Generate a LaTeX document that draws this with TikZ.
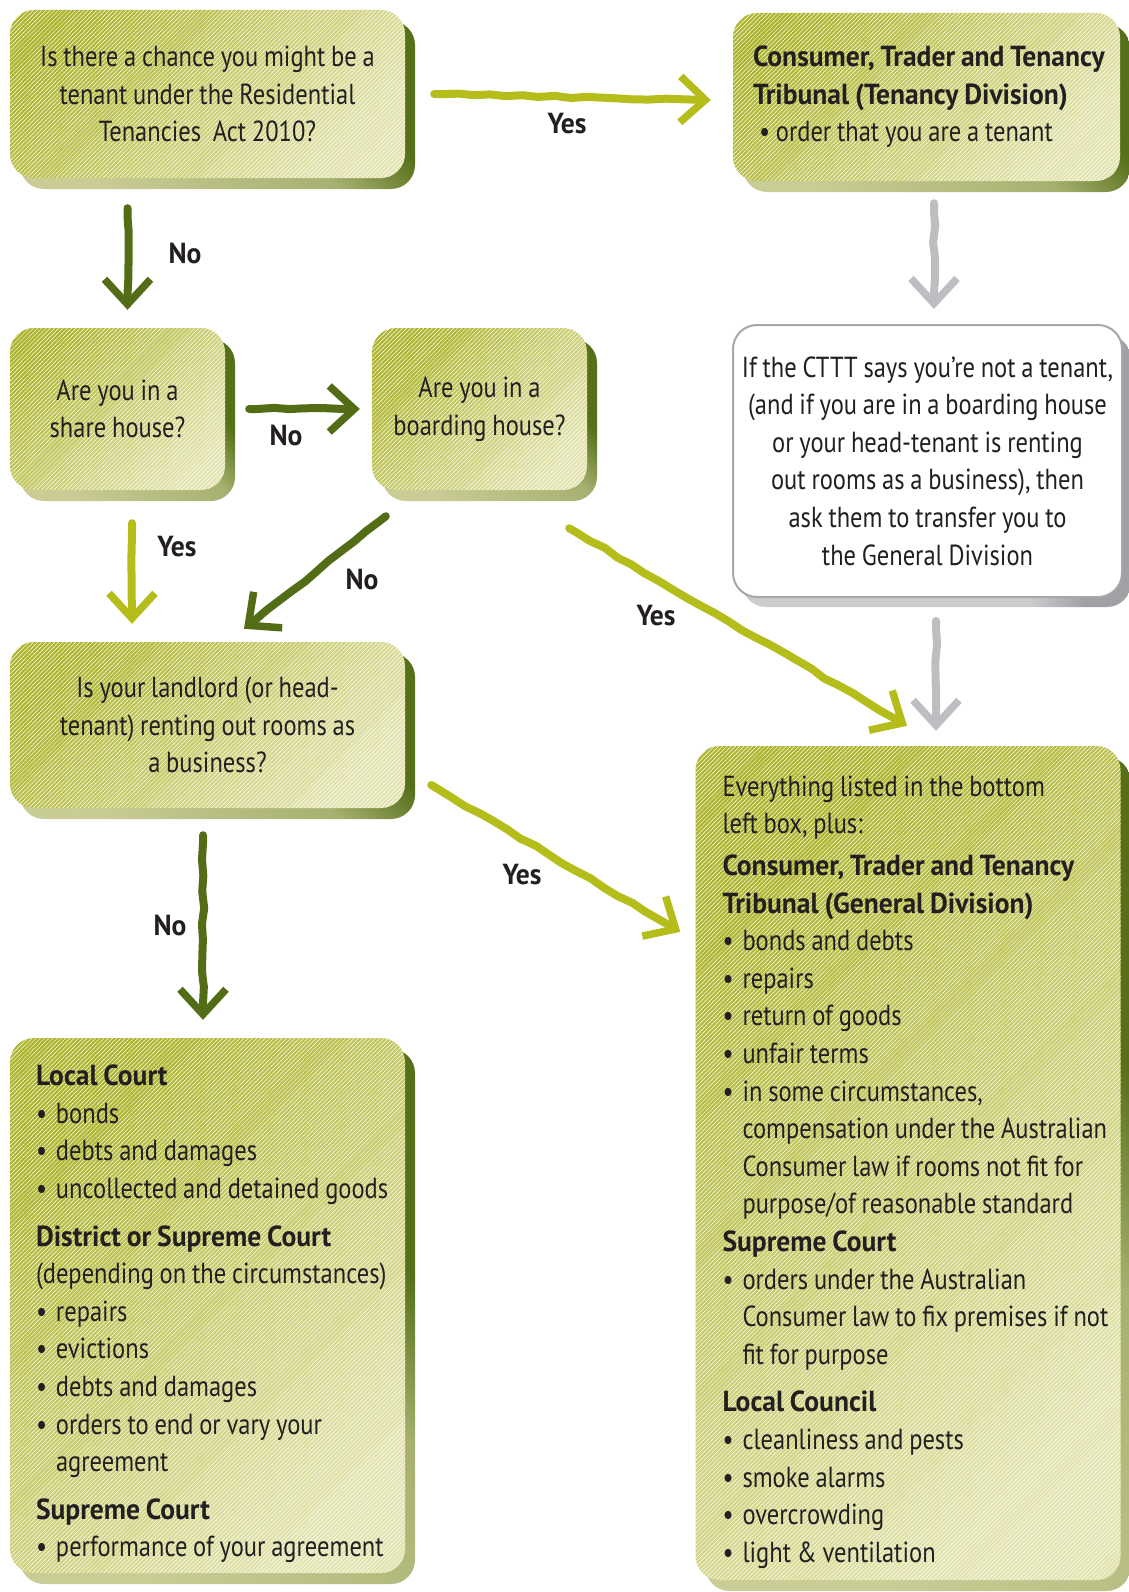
\documentclass[tikz,border=0pt]{standalone}
\usepackage{fontspec}
\setmainfont{PT Sans}[UprightFeatures={FakeStretch=0.845}, BoldFeatures={FakeStretch=0.95}]
\usepackage{tikz}
\usetikzlibrary{arrows.meta,shadows,decorations.pathmorphing,patterns.meta}

\definecolor{olivetop}{HTML}{AEB42D}
\definecolor{olivepale}{HTML}{E2E3AE}
\definecolor{shdark}{HTML}{56701A}
\definecolor{shlight}{HTML}{C9CC95}
\definecolor{arrowlight}{HTML}{B5BD1A}
\definecolor{arrowdark}{HTML}{536C16}
\definecolor{arrowgray}{HTML}{BDBEC1}
\definecolor{boxgray}{HTML}{A5A7AA}
\definecolor{shgray}{HTML}{9FA1A4}
\definecolor{shgraylight}{HTML}{CBCCCE}
\definecolor{ink}{HTML}{231F20}

\pgfdeclarehorizontalshading{greenshadow}{100bp}{color(0bp)=(shlight); color(25bp)=(shlight); color(55bp)=(shlight!70!shdark); color(68bp)=(shdark); color(100bp)=(shdark)}
\pgfdeclarehorizontalshading{grayshadow}{100bp}{color(0bp)=(shgraylight); color(25bp)=(shgraylight); color(62bp)=(shgraylight); color(69bp)=(shgray); color(100bp)=(shgray)}

\hyphenpenalty=10000
\exhyphenpenalty=10000
% narrow word spaces, set inside each box
\newcommand{\tsp}{\spaceskip=.2em\xspaceskip=.25em\relax}
\newcommand{\bitem}[1]{\par\noindent\hangindent=20pt\hangafter=1\makebox[20pt][l]{\textbullet}#1}
\newcommand{\bhead}[1]{\par\noindent\textbf{#1}}
\newcommand{\bgap}{\par\vspace{10pt}}

\begin{document}
\begin{tikzpicture}[x=1pt, y=-1pt,
  facebox/.style={rectangle, rounded corners=24pt, inner sep=0pt, text=ink,
    top color=olivetop, bottom color=olivepale, shading angle=45,
    general shadow={shadow xshift=10pt, shadow yshift=-11pt, shade, shading=greenshadow},
    postaction={pattern={Lines[angle=45,distance=3pt,line width=.5pt]}, pattern color=white, fill opacity=.08},
    font=\fontsize{29}{37.6}\selectfont},
  whitebox/.style={rectangle, rounded corners=24pt, inner sep=0pt, text=ink, fill=white,
    draw=boxgray, line width=2pt,
    general shadow={shadow xshift=9pt, shadow yshift=-10pt, shade, shading=grayshadow},
    font=\fontsize{29}{37.6}\selectfont},
  lbl/.style={font=\fontsize{29}{34}\selectfont\bfseries, text=ink, inner sep=0pt},
  flow/.style={line width=8pt, line cap=round, decorate,
    decoration={random steps, segment length=16pt, amplitude=1.2pt, pre length=8pt, post length=16pt},
    -{Straight Barb[length=25pt, width=46pt, line width=7.5pt]}},
  yesarrow/.style={flow, draw=arrowlight},
  noarrow/.style={flow, draw=arrowdark},
  grayarrow/.style={flow, draw=arrowgray}]
\useasboundingbox (0,0) rectangle (1128,1592);

\node[facebox, minimum width=395pt, minimum height=168pt, text width=375pt, align=center] (tenant) at (207.5,94)
  {\tsp Is there a chance you might be a\\tenant under the Residential\\Tenancies~ Act 2010?};
\node[facebox, minimum width=387pt, minimum height=168pt, text width=370pt, align=left] (tenancydiv) at (926.5,97)
  {\tsp\leftskip=11.5pt
   \textbf{Consumer, Trader and Tenancy}\\\textbf{Tribunal (Tenancy Division)}\\\hspace*{6pt}\textbullet\ order that you are a tenant\par};
\node[facebox, minimum width=215pt, minimum height=162pt, text width=200pt, align=center] (share) at (117.5,409)
  {\tsp Are you in a\\share house?};
\node[facebox, minimum width=215pt, minimum height=162pt, text width=200pt, align=center] (boarding) at (479.5,409)
  {\tsp Are you in a\\boarding house?};
\node[whitebox, minimum width=389pt, minimum height=272pt, text width=380pt, align=center] (transfer) at (927.5,461)
  {\tsp If the CTTT says you’re not a tenant,\\(and if you are in a boarding house\\or your head-tenant is renting\\out rooms as a business), then\\ask them to transfer you to\\the General Division};
\node[facebox, minimum width=395pt, minimum height=166pt, text width=375pt, align=center] (business) at (207.5,725)
  {\tsp Is your landlord (or head-\\tenant) renting out rooms as\\a business?};
\node[facebox, minimum width=395pt, minimum height=535pt, text width=380pt, align=left] (courts) at (207.5,1305.5)
  {\tsp\leftskip=18.5pt
   \bhead{Local Court}
   \bitem{bonds}
   \bitem{debts and damages}
   \bitem{uncollected and detained goods}
   \bgap\bhead{District or Supreme Court}
   \par\noindent(depending on the circumstances)
   \bitem{repairs}
   \bitem{evictions}
   \bitem{debts and damages}
   \bitem{orders to end or vary your\newline agreement}
   \bgap\bhead{Supreme Court}
   \bitem{performance of your agreement}\par};
\node[facebox, minimum width=425pt, minimum height=834pt, text width=410pt, align=left] (general) at (908,1163)
  {\tsp\leftskip=19.5pt
   \noindent Everything listed in the bottom\newline left box, plus:
   \par\vspace{4pt}\bhead{Consumer, Trader and Tenancy\newline Tribunal (General Division)}
   \bitem{bonds and debts}
   \bitem{repairs}
   \bitem{return of goods}
   \bitem{unfair terms}
   \bitem{in some circumstances,\newline compensation under the Australian\newline Consumer law if rooms not fit for\newline purpose/of reasonable standard}
   \bhead{Supreme Court}
   \bitem{orders under the Australian\newline Consumer law to fix premises if not\newline fit for purpose}
   \bgap\bhead{Local Council}
   \bitem{cleanliness and pests}
   \bitem{smoke alarms}
   \bitem{overcrowding}
   \bitem{light \& ventilation}\par\vspace{-18pt}};

\draw[yesarrow] ([xshift=29pt]tenant.east) -- ([xshift=-22pt,yshift=-3pt]tenancydiv.west);
\draw[noarrow] ([xshift=-80pt,yshift=-30pt]tenant.south) -- ([xshift=10pt,yshift=18pt]share.north);
\draw[grayarrow] ([xshift=7.5pt,yshift=-22pt]tenancydiv.south) -- ([xshift=6.5pt,yshift=15pt]transfer.north);
\draw[noarrow] ([xshift=24pt]share.east) -- ([xshift=-12pt]boarding.west);
\draw[yesarrow] ([xshift=14.5pt,yshift=-33pt]share.south) -- ([xshift=-75.5pt,yshift=18pt]business.north);
\draw[noarrow] ([xshift=14pt,yshift=-26pt]boarding.south west) -- ([xshift=36.5pt,yshift=13pt]business.north);
\draw[yesarrow] ([xshift=-18pt,yshift=-38pt]boarding.south east) -- ([xshift=-1pt,yshift=20pt]general.north);
\draw[grayarrow] ([xshift=8.5pt,yshift=-23pt]transfer.south) -- ([xshift=28pt,yshift=15pt]general.north);
\draw[yesarrow] ([xshift=26pt,yshift=-60pt]business.east) -- ([xshift=-15pt,yshift=-186pt]general.north west);
\draw[noarrow] ([xshift=-4.5pt,yshift=-27pt]business.south) -- ([xshift=-4.5pt,yshift=18pt]courts.north);

\node[lbl] (yestop) at (567,124) {Yes};
\node[lbl] (notop) at (185,253) {No};
\node[lbl] (noshare) at (286,435) {No};
\node[lbl] (yesshare) at (177,547) {Yes};
\node[lbl] (noboard) at (362,579) {No};
\node[lbl] (yesboard) at (656,616) {Yes};
\node[lbl] (yesbusiness) at (522,875) {Yes};
\node[lbl] (nobusiness) at (170,925) {No};
\end{tikzpicture}
\end{document}
